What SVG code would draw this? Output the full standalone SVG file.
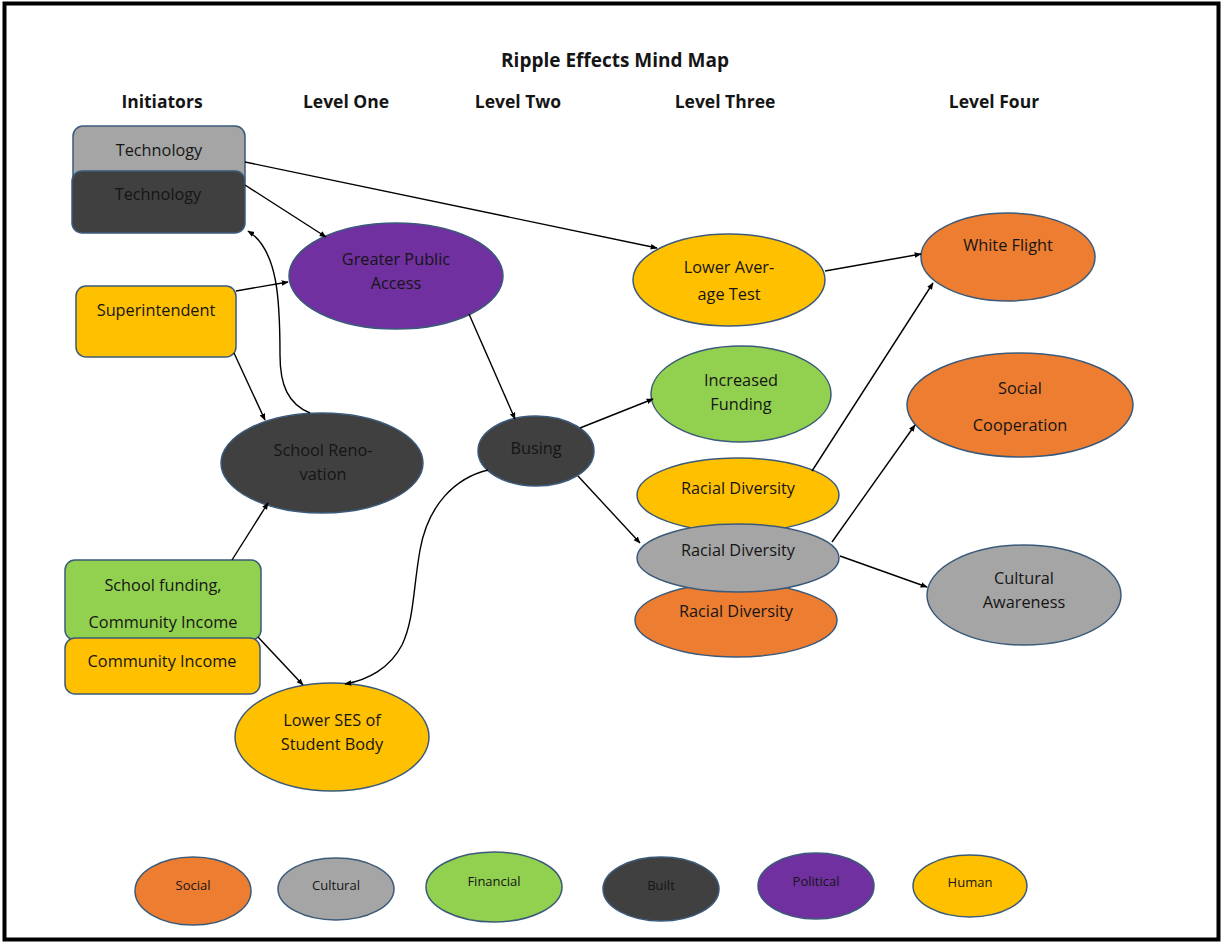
<svg xmlns="http://www.w3.org/2000/svg" width="1224" height="945" viewBox="0 0 1224 945">
<style>
text{font-family:"Open Sans","Liberation Sans",sans-serif;fill:#151515;text-anchor:middle;font-size:16.3px}
.t{font-weight:bold;font-size:19px}
.h{font-weight:bold;font-size:17.5px}
.lg{font-size:13px}
.n{stroke:#3B5A7A;stroke-width:1.5}
.soc{fill:#ED7D31}.cul{fill:#A5A5A5}.fin{fill:#92D050}.blt{fill:#404040}.pol{fill:#7030A0}.hum{fill:#FFC000}
.c{fill:none;stroke:#000;stroke-width:1.4;marker-end:url(#ah)}
</style>
<defs>
<marker id="ah" viewBox="0 0 10 10" refX="9" refY="5" markerWidth="7" markerHeight="7" orient="auto" markerUnits="userSpaceOnUse">
<path d="M0,1 L10,5 L0,9 z" fill="#000"/>
</marker>
</defs>
<rect x="0" y="0" width="1224" height="945" fill="#fff"/>
<rect x="4.5" y="3.5" width="1214" height="936" fill="none" stroke="#000" stroke-width="4"/>
<g id="headers">
<text class="t" x="615" y="67">Ripple Effects Mind Map</text>
<text class="h" x="162" y="108">Initiators</text>
<text class="h" x="346" y="108">Level One</text>
<text class="h" x="518" y="108">Level Two</text>
<text class="h" x="725" y="108">Level Three</text>
<text class="h" x="994" y="108">Level Four</text>
</g>
<g id="tech-cultural">
<rect class="n cul" x="73" y="126" width="172" height="62" rx="10"/>
<text x="159" y="156">Technology</text>
</g>
<g id="tech-built">
<rect class="n blt" x="72" y="171" width="173" height="62" rx="10"/>
<text x="158" y="200">Technology</text>
</g>
<g id="superintendent">
<rect class="n hum" x="76" y="286" width="160" height="71" rx="10"/>
<text x="156" y="316">Superintendent</text>
</g>
<g id="greater-public-access">
<ellipse class="n pol" cx="396" cy="276" rx="107" ry="53"/>
<text x="396" y="265">Greater Public</text>
<text x="396" y="289">Access</text>
</g>
<g id="school-renovation">
<ellipse class="n blt" cx="322" cy="463" rx="101" ry="50"/>
<text x="323" y="456">School Reno-</text>
<text x="323" y="480">vation</text>
</g>
<g id="school-funding">
<rect class="n fin" x="65" y="560" width="196" height="80" rx="10"/>
<text x="163" y="591">School funding,</text>
<text x="163" y="628">Community Income</text>
</g>
<g id="community-income">
<rect class="n hum" x="65" y="638" width="195" height="56" rx="10"/>
<text x="162" y="667">Community Income</text>
</g>
<g id="lower-ses">
<ellipse class="n hum" cx="332" cy="737" rx="97" ry="54"/>
<text x="332" y="726">Lower SES of</text>
<text x="332" y="750">Student Body</text>
</g>
<g id="busing">
<ellipse class="n blt" cx="536" cy="451" rx="58" ry="35"/>
<text x="536" y="454">Busing</text>
</g>
<g id="lower-average-test">
<ellipse class="n hum" cx="729" cy="280" rx="96" ry="46"/>
<text x="729" y="273">Lower Aver-</text>
<text x="729" y="300">age Test</text>
</g>
<g id="increased-funding">
<ellipse class="n fin" cx="741" cy="394" rx="90" ry="48"/>
<text x="741" y="386">Increased</text>
<text x="741" y="410">Funding</text>
</g>
<g id="racial-diversity-social">
<ellipse class="n soc" cx="736" cy="620" rx="101" ry="37"/>
<text x="736" y="617">Racial Diversity</text>
</g>
<g id="racial-diversity-human">
<ellipse class="n hum" cx="738" cy="495" rx="101" ry="37"/>
<text x="738" y="494">Racial Diversity</text>
</g>
<g id="racial-diversity-cultural">
<ellipse class="n cul" cx="738" cy="558" rx="101" ry="34"/>
<text x="738" y="556">Racial Diversity</text>
</g>
<g id="white-flight">
<ellipse class="n soc" cx="1008" cy="257" rx="87" ry="44"/>
<text x="1008" y="251">White Flight</text>
</g>
<g id="social-cooperation">
<ellipse class="n soc" cx="1020" cy="405" rx="113" ry="52"/>
<text x="1020" y="394">Social</text>
<text x="1020" y="431">Cooperation</text>
</g>
<g id="cultural-awareness">
<ellipse class="n cul" cx="1024" cy="595" rx="97" ry="50"/>
<text x="1024" y="584">Cultural</text>
<text x="1024" y="608">Awareness</text>
</g>
<g id="connectors">
<path class="c" d="M245,162 L657,248"/>
<path class="c" d="M245,185 L326,237"/>
<path class="c" d="M236,291 L288,282"/>
<path class="c" d="M234,353 L265,420"/>
<path class="c" d="M310,413 C288,404 280,385 280,355 C280,300 278,250 248,231"/>
<path class="c" d="M232,560 L268,503"/>
<path class="c" d="M258,637 L303,685"/>
<path class="c" d="M488,470 C455,478 428,505 420,550 C413,590 414,620 402,645 C390,668 368,680 345,684"/>
<path class="c" d="M469,314 L515,419"/>
<path class="c" d="M580,428 L653,399"/>
<path class="c" d="M578,476 L640,543"/>
<path class="c" d="M825,271 L921,254"/>
<path class="c" d="M812,471 L933,283"/>
<path class="c" d="M832,542 L915,425"/>
<path class="c" d="M840,556 L927,587"/>
</g>
<g id="legend-social">
<ellipse class="n soc" cx="193" cy="891" rx="58" ry="34"/>
<text class="lg" x="193" y="890">Social</text>
</g>
<g id="legend-cultural">
<ellipse class="n cul" cx="336" cy="889" rx="58" ry="31"/>
<text class="lg" x="336" y="890">Cultural</text>
</g>
<g id="legend-financial">
<ellipse class="n fin" cx="494" cy="887" rx="68" ry="35"/>
<text class="lg" x="494" y="886">Financial</text>
</g>
<g id="legend-built">
<ellipse class="n blt" cx="661" cy="889" rx="58" ry="32"/>
<text class="lg" x="661" y="890">Built</text>
</g>
<g id="legend-political">
<ellipse class="n pol" cx="816" cy="886" rx="58" ry="33"/>
<text class="lg" x="816" y="886">Political</text>
</g>
<g id="legend-human">
<ellipse class="n hum" cx="970" cy="886" rx="57" ry="31"/>
<text class="lg" x="970" y="887">Human</text>
</g>
</svg>
